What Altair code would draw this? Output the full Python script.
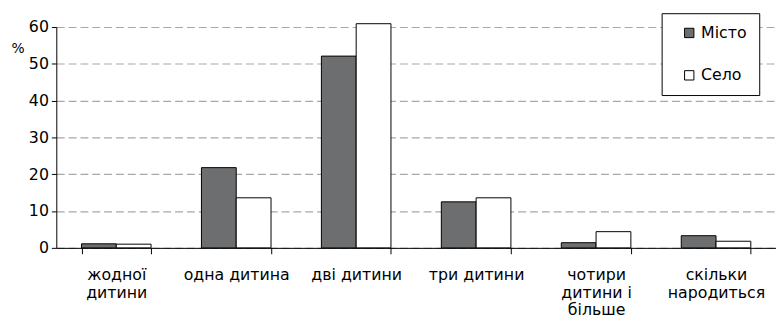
import altair as alt
import pandas as pd

categories = ["жодної\nдитини", "одна дитина", "дві дитини", "три дитини",
              "чотири\nдитини і\nбільше", "скільки\nнародиться"]
series = ["Місто", "Село"]
misto = [1.1, 21.8, 52.1, 12.5, 1.4, 3.3]
selo = [1.0, 13.6, 60.9, 13.6, 4.4, 1.8]

rows = []
for c, m, s in zip(categories, misto, selo):
    rows.append({"cat": c, "series": "Місто", "value": m})
    rows.append({"cat": c, "series": "Село", "value": s})
df = pd.DataFrame(rows)

FONT = "DejaVu Sans"

chart = alt.Chart(df).mark_bar(stroke="black", strokeWidth=1).encode(
    x=alt.X("cat:N", sort=categories, title=None,
            scale=alt.Scale(paddingInner=0.42, paddingOuter=0.21),
            axis=alt.Axis(labelAngle=0, tickBand="extent", tickSize=6,
                          labelPadding=13, labelExpr="split(datum.label, '\\n')",
                          labelLineHeight=18, labelFontSize=16, labelColor="black",
                          labelFont=FONT, domainColor="black", tickColor="black",
                          grid=False)),
    xOffset=alt.XOffset("series:N", sort=series),
    y=alt.Y("value:Q", scale=alt.Scale(domain=[0, 60], nice=False),
            axis=alt.Axis(values=[0, 10, 20, 30, 40, 50, 60], tickSize=5,
                          labelFontSize=16, labelFont=FONT, labelColor="black",
                          domainColor="black", tickColor="black", labelPadding=3,
                          grid=True, gridColor="#a8a8a8", gridDash=[8, 4],
                          gridWidth=1.2, title="%", titleAngle=0,
                          titleFont=FONT, titleFontSize=14, titleFontWeight="normal",
                          titleAlign="left", titleBaseline="middle",
                          titleX=-46, titleY=22)),
    fill=alt.Fill("series:N", sort=series,
                  scale=alt.Scale(domain=series, range=["#6d6e70", "#ffffff"]),
                  legend=alt.Legend(title=None, orient="none", legendX=614,
                                    legendY=-14, fillColor="white",
                                    strokeColor="black", padding=12,
                                    symbolType="square", symbolSize=90,
                                    symbolStrokeColor="black", symbolStrokeWidth=1,
                                    symbolOffset=8, labelFontSize=16,
                                    labelFont=FONT, labelColor="black",
                                    rowPadding=27, labelOffset=4)),
).properties(
    width=730, height=224,
    autosize=alt.AutoSizeParams(type="none"),
    padding={"left": 49, "top": 17, "right": 0, "bottom": 80},
).configure_view(stroke=None)

chart.save("out.html", embed_options={"renderer": "svg", "actions": False})
